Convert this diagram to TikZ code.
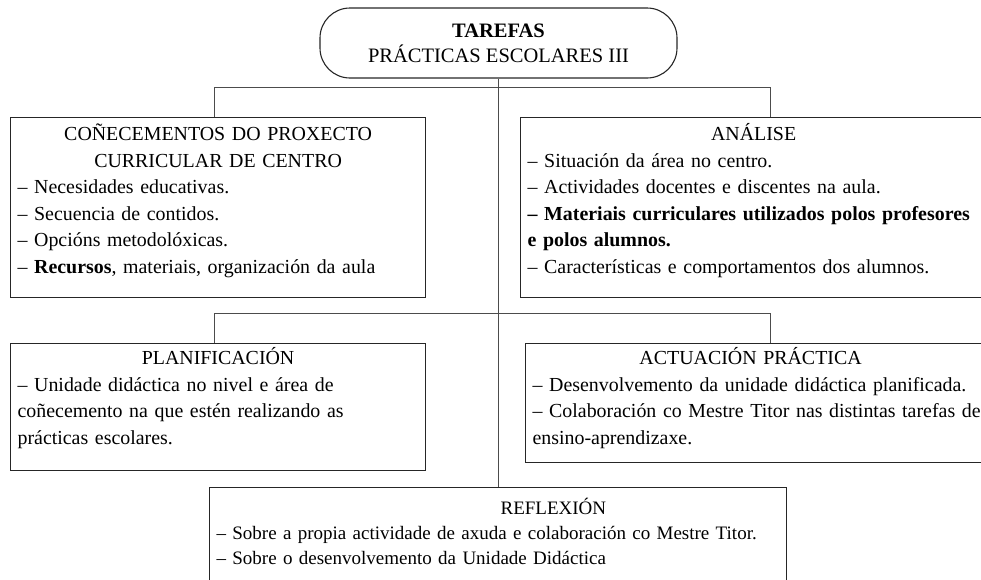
\documentclass[tikz,border=0pt]{standalone}
\usepackage{fontspec}
\setmainfont{Liberation Serif}
\usetikzlibrary{positioning}
\tikzset{
  pill/.style={draw=black!85, line width=1.1pt, rounded corners=30pt, align=center, minimum width=357pt, minimum height=70pt, inner sep=0pt, font=\fontsize{20.5}{25}\selectfont},
  panel/.style={draw=black!85, line width=1.2pt, anchor=north west, align=left, text width=#1, inner xsep=7pt, inner ysep=8pt, text height=15pt, font=\fontsize{19.9}{26.5}\selectfont},
  low/.style={inner ysep=6pt},
  small/.style={inner ysep=12pt, font=\fontsize{19}{25}\selectfont},
  link/.style={draw=black!70, line width=0.9pt}
}
\begin{document}
\begin{tikzpicture}[x=1pt, y=-1pt]
  \useasboundingbox (0,0) rectangle (981,579);
  \clip (0,0) rectangle (981,579);
  \node[pill] (top) at (498.5,43) {\textbf{TAREFAS}\\PRÁCTICAS ESCOLARES III};
  \node[panel=401pt, text depth=149pt] (know) at (10,117) {{\centering COÑECEMENTOS DO PROXECTO\\ CURRICULAR DE CENTRO\par}– Necesidades educativas.\\ – Secuencia de contidos.\\ – Opcións metodolóxicas.\\ – \textbf{Recursos}, materiais, organización da aula};
  \node[panel=486pt, text depth=149pt] (anal) at (520,117) {\makebox[452pt]{ANÁLISE}\\ – Situación da área no centro.\\ – Actividades docentes e discentes na aula.\\ \textbf{– Materiais curriculares utilizados polos profesores\\ e polos alumnos.}\\ – Características e comportamentos dos alumnos.};
  \node[panel=401pt, low, text depth=100pt] (plan) at (10,343) {{\centering PLANIFICACIÓN\par}– Unidade didáctica no nivel e área de\\ coñecemento na que estén realizando as\\ prácticas escolares.};
  \node[panel=476pt, low, text depth=92pt] (actu) at (525,343) {\makebox[436pt]{ACTUACIÓN PRÁCTICA}\\ – Desenvolvemento da unidade didáctica planificada.\\ – Colaboración co Mestre Titor nas distintas tarefas de\\ ensino-aprendizaxe.};
  \node[panel=563pt, small, text depth=80pt] (refl) at (209,487) {\hspace*{284pt}REFLEXIÓN\\ – Sobre a propia actividade de axuda e colaboración co Mestre Titor.\\ – Sobre o desenvolvemento da Unidade Didáctica};
  \draw[link] (top.south) -- (top.south |- refl.north);
  \foreach \a/\b in {know/anal,plan/actu} \draw[link] ([xshift=-4pt]\a.north) -- ++(0,-30) -| (\b.north);
\end{tikzpicture}
\end{document}
